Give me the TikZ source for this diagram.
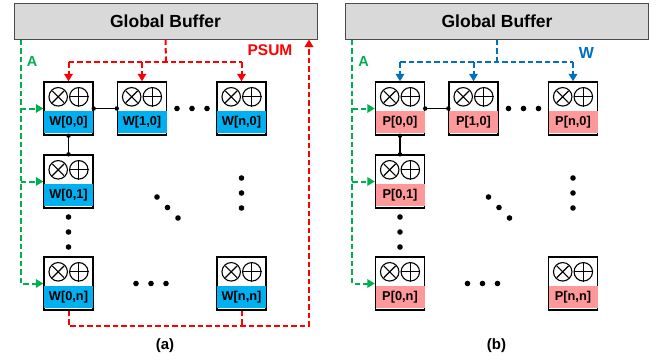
\documentclass[tikz,border=0pt]{standalone}
\usepackage{fontspec}
\setmainfont{Liberation Sans}
\usetikzlibrary{arrows.meta,calc}
\definecolor{peblue}{RGB}{0,176,240}
\definecolor{pepink}{RGB}{255,153,153}
\definecolor{agreen}{RGB}{0,176,80}
\definecolor{wblue}{RGB}{0,112,192}
\definecolor{gbgray}{RGB}{217,217,217}
\tikzset{
 pebox/.style={draw=black, line width=1.4pt, fill=white, minimum width=49pt, minimum height=53pt, inner sep=0pt},
 opc/.style={draw=black, line width=1.1pt, circle, minimum size=18.5pt, inner sep=0pt},
 lbl/.style={font=\bfseries\fontsize{12.8}{14}\selectfont, inner sep=0pt},
 gbuf/.style={draw=black!70, line width=1pt, fill=gbgray, minimum width=303pt, minimum height=36pt, inner sep=0pt, font=\bfseries\fontsize{17.5}{20}\selectfont},
 dl/.style={line width=2pt, dash pattern=on 5.5pt off 3pt},
 tip/.style={-{Triangle[length=7.5pt,width=8.5pt]}},
 link/.style={line width=1.1pt},
 tagtxt/.style={font=\bfseries\fontsize{15.5}{18}\selectfont, inner sep=0pt},
 captxt/.style={font=\bfseries\fontsize{15}{18}\selectfont, inner sep=0pt},
}
\newcommand\pe[5]{%
 \node[pebox] (#1) at (#2,#3+26.5) {};
 \fill[#5] ([shift={(0.7pt,-30pt)}]#1.north west) rectangle ([shift={(-0.7pt,3pt)}]#1.south east);
 \node[opc] (#1m) at ([shift={(-10.3pt,-15.5pt)}]#1.north) {};
 \node[opc] (#1a) at ([shift={(10.3pt,-15.5pt)}]#1.north) {};
 \draw[line width=1.1pt, shorten >=1.5pt, shorten <=1.5pt] (#1m.north west) -- (#1m.south east);
 \draw[line width=1.1pt, shorten >=1.5pt, shorten <=1.5pt] (#1m.north east) -- (#1m.south west);
 \draw[line width=1.1pt] (#1a.north) -- (#1a.south) (#1a.west) -- (#1a.east);
 \node[lbl] (#1l) at ([yshift=-40.5pt]#1.north) {#4};
}
\newcommand\panel[4]{%
 \node[gbuf] (#1gb) at (165.5,21) {Global Buffer};
 \pe{#1p00}{68.5}{82}{#2[0,0]}{#3}
 \pe{#1p10}{142}{82}{#2[1,0]}{#3}
 \pe{#1pn0}{241.5}{82}{#2[n,0]}{#3}
 \pe{#1p01}{68.5}{155}{#2[0,1]}{#3}
 \pe{#1p0n}{68.5}{257}{#2[0,n]}{#3}
 \pe{#1pnn}{241.5}{257}{#2[n,n]}{#3}
 \draw[link] (#1p00.east) -- (#1p10.west);
 \fill (#1p00.east) circle (2.2pt) (#1p10.west) circle (2.2pt);
 \draw[link] (#1p00.south) -- (#1p01.north);
 \fill (#1p00.south) circle (2.2pt) (#1p01.north) circle (2.2pt);
 \foreach \x in {177,192,207} \fill (\x,108.5) circle (2.8pt);
 \foreach \x in {136,151,166} \fill (\x,283.5) circle (2.8pt);
 \foreach \y in {217,232,247} \fill (68.5,\y) circle (2.8pt);
 \foreach \y in {178,193,208} \fill (241.5,\y) circle (2.8pt);
 \fill (157,197) circle (2.8pt) (167.5,207.5) circle (2.8pt) (178,218) circle (2.8pt);
 \coordinate (#1ga) at ([xshift=7pt]#1gb.south west);
 \draw[dl,agreen,tip] (#1ga) |- (#1p0n.west);
 \draw[dl,agreen,tip] (#1ga |- #1p00.west) -- (#1p00.west);
 \draw[dl,agreen,tip] (#1ga |- #1p01.west) -- (#1p01.west);
 \node[tagtxt,text=agreen] (#1A) at (32,61.5) {\fontsize{14.5}{16}\selectfont A};
 \node[captxt] (#1cap) at (165,346) {#4};
}
\begin{document}
\begin{tikzpicture}[x=1pt,y=-1pt]
\useasboundingbox (0,0) rectangle (665,360);
% panel (a)
\panel{a}{W}{peblue}{(a)}
\coordinate (ra) at (166,62);
\draw[dl,red] (agb.south) -- (ra);
\draw[dl,red] (ap00.north |- ra) -- (apn0.north |- ra);
\draw[dl,red,tip] (ap00.north |- ra) -- (ap00.north);
\draw[dl,red,tip] (ap10.north |- ra) -- (ap10.north);
\draw[dl,red,tip] (apn0.north |- ra) -- (apn0.north);
\coordinate (rb) at (309,326);
\draw[dl,red,tip] (ap0n.south) |- (rb) -- (rb |- agb.south);
\draw[dl,red] (apnn.south) -- (apnn.south |- rb);
\node[tagtxt,text=red] (psum) at (270,50.5) {PSUM};
% panel (b)
\begin{scope}[xshift=331.5pt]
\panel{b}{P}{pepink}{(b)}
\coordinate (wa) at (165.5,62);
\draw[dl,wblue] (bgb.south) -- (wa);
\draw[dl,wblue] (bp00.north |- wa) -- (bpn0.north |- wa);
\draw[dl,wblue,tip] (bp00.north |- wa) -- (bp00.north);
\draw[dl,wblue,tip] (bp10.north |- wa) -- (bp10.north);
\draw[dl,wblue,tip] (bpn0.north |- wa) -- (bpn0.north);
\node[tagtxt,text=wblue] (wlab) at (255,52.5) {\fontsize{16}{18}\selectfont W};
\end{scope}
\end{tikzpicture}
\end{document}
